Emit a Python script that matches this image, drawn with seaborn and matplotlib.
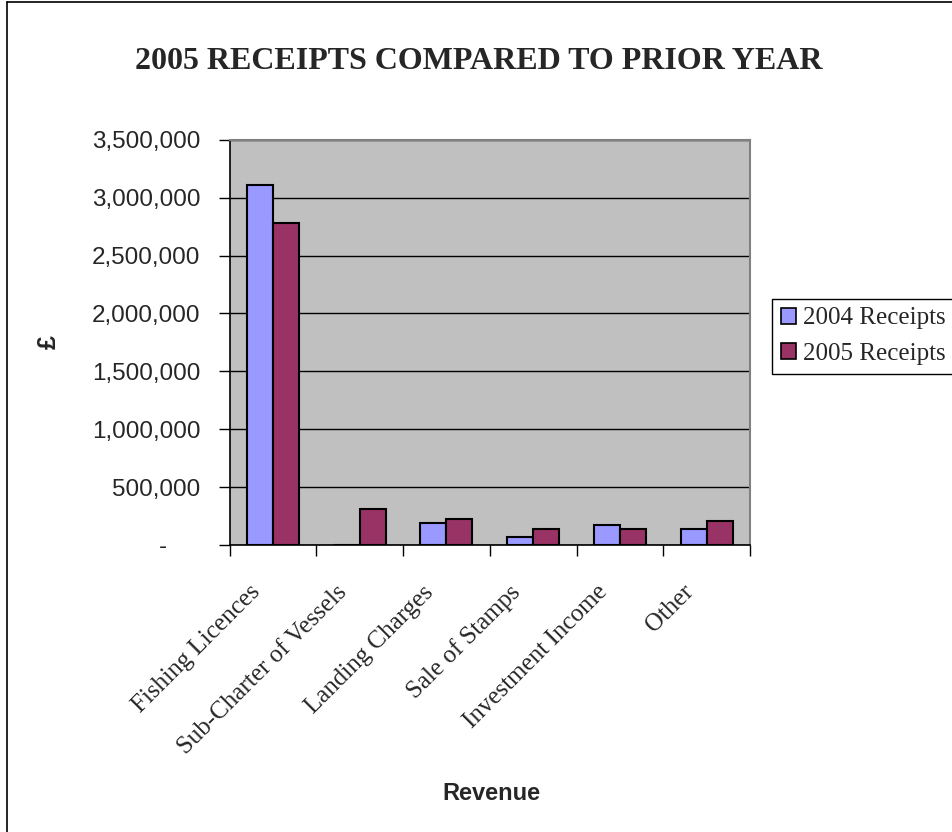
import pandas as pd
import numpy as np
import matplotlib
matplotlib.use('Agg')
import matplotlib.pyplot as plt
import seaborn as sns
from matplotlib.ticker import FuncFormatter, FixedLocator
from matplotlib.patches import Patch
from matplotlib.lines import Line2D
from matplotlib.transforms import ScaledTranslation

# Dados
categories = ['Fishing Licences', 'Sub-Charter of Vessels', 'Landing Charges',
              'Sale of Stamps', 'Investment Income', 'Other']
receipts_2004 = [3110000, 0, 188000, 67000, 170000, 136000]
receipts_2005 = [2777000, 309000, 222000, 136000, 136000, 207000]
series_names = ['2004 Receipts', '2005 Receipts']
colors = ['#9999FF', '#993366']

df = pd.DataFrame({
    'Revenue': categories * 2,
    'Receipts': receipts_2004 + receipts_2005,
    'Series': [series_names[0]] * len(categories) + [series_names[1]] * len(categories),
})

sns.set_style('white')
plt.rcParams['font.family'] = ['Liberation Sans', 'DejaVu Sans']

fig = plt.figure(figsize=(9.53, 8.32), dpi=100)
ax = fig.add_axes([0.241, 0.345, 0.546, 0.487])
ax.set_facecolor('#C0C0C0')

sns.barplot(data=df, x='Revenue', y='Receipts', hue='Series', palette=colors,
            saturation=1, width=0.6, edgecolor='black', linewidth=1.5, ax=ax,
            legend=False)

# Eixos
ax.set_ylim(0, 3500000)
ax.set_xlim(-0.5, len(categories) - 0.5)
ax.set_yticks(np.arange(0, 3500001, 500000))
ax.yaxis.set_major_formatter(FuncFormatter(lambda v, p: '-     ' if v == 0 else f'{int(v):,}'))
ax.tick_params(axis='y', direction='out', length=8, width=1, color='black',
               labelsize=17.5, pad=13, left=True)
ax.grid(axis='y', color='black', linewidth=1)
ax.set_axisbelow(True)

ax.set_xticks(range(len(categories)))
ax.set_xticklabels(categories, rotation=45, ha='right', rotation_mode='anchor',
                   family=['Liberation Serif'], fontsize=18)
ax.tick_params(axis='x', which='major', length=0, pad=26)
shift = ScaledTranslation(-0.24, 0, fig.dpi_scale_trans)
for lab in ax.get_xticklabels():
    lab.set_transform(lab.get_transform() + shift)
ax.xaxis.set_minor_locator(FixedLocator(np.arange(-0.5, len(categories), 1)))
ax.tick_params(axis='x', which='minor', direction='out', length=8, width=1,
               color='black', bottom=True)

for s in ['left', 'bottom']:
    ax.spines[s].set_color('black')
    ax.spines[s].set_linewidth(1.2)
for s in ['top', 'right']:
    ax.spines[s].set_color('#808080')
    ax.spines[s].set_linewidth(1.5)

ax.set_xlabel('Revenue', fontsize=17, fontweight='bold')
ax.set_ylabel('£', fontsize=18, fontweight='bold')
ax.xaxis.set_label_coords(0.503, -0.585)
ax.yaxis.set_label_coords(-0.325, 0.5)

# Titulo
fig.text(0.502, 0.926, '2005 RECEIPTS COMPARED TO PRIOR YEAR', ha='center', va='center',
         family=['Liberation Serif'], fontsize=23, fontweight='bold')

# Legenda
handles = [Patch(facecolor=c, edgecolor='black', linewidth=1.2) for c in colors]
leg = fig.legend(handles, series_names, loc='upper left', bbox_to_anchor=(0.810, 0.641),
                 frameon=True, fancybox=False, edgecolor='black', framealpha=1,
                 prop={'family': 'Liberation Serif', 'size': 18},
                 handlelength=0.6, handleheight=0.6, handletextpad=0.3,
                 borderpad=0.35, labelspacing=0.55, borderaxespad=0)
leg.get_frame().set_linewidth(1)

# Moldura da figura (esquerda e topo)
fig.add_artist(Line2D([0.007, 0.007], [0.0, 0.997], transform=fig.transFigure,
                      color='black', linewidth=1.2))
fig.add_artist(Line2D([0.007, 1.0], [0.997, 0.997], transform=fig.transFigure,
                      color='black', linewidth=1.2))

plt.savefig('out.png', dpi=100)
